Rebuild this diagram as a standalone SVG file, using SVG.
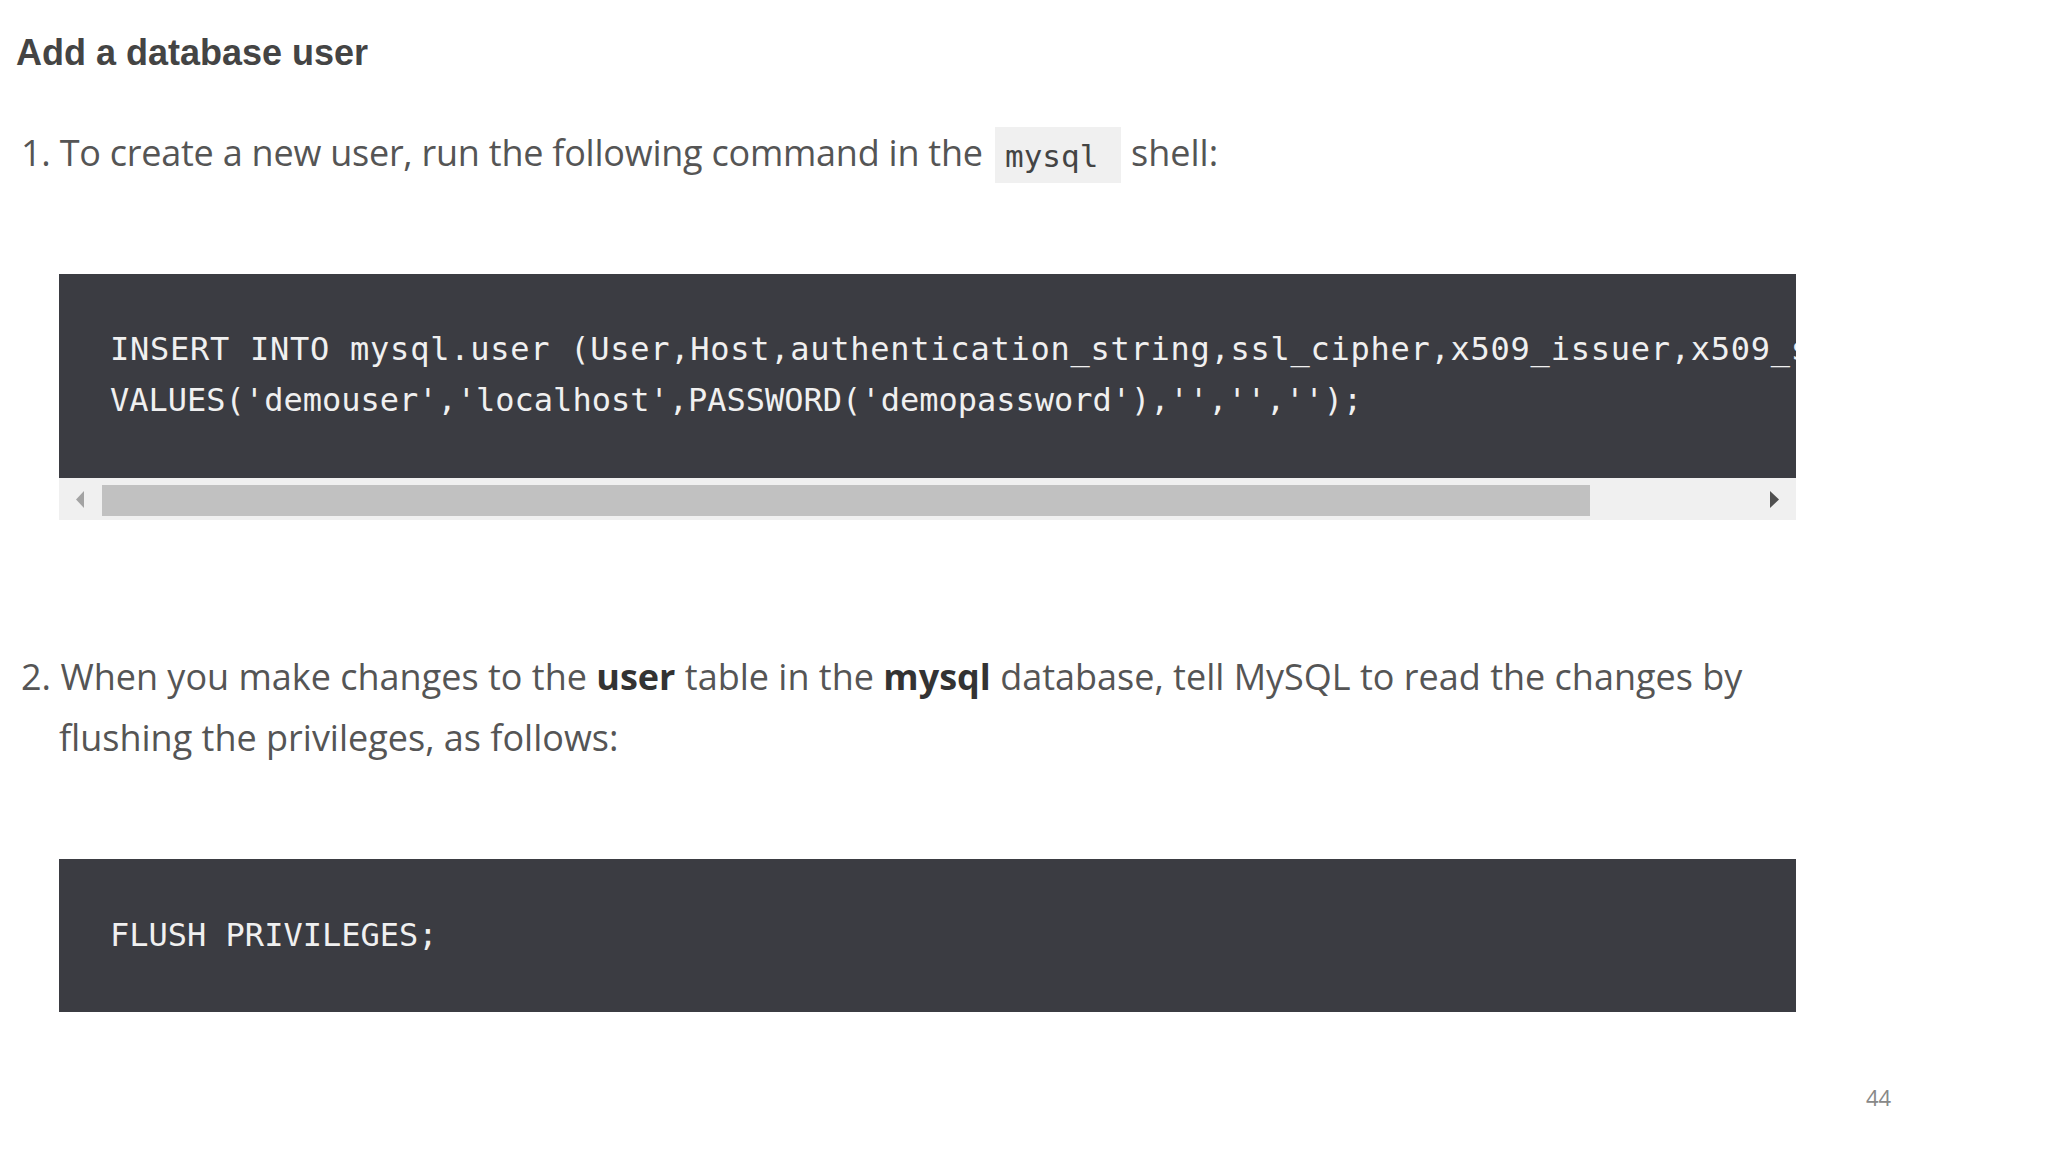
<svg xmlns="http://www.w3.org/2000/svg" width="2048" height="1152" viewBox="0 0 2048 1152">
<style>
.t{font-family:"Open Sans","Noto Sans",sans-serif;font-size:36px;fill:#555}
.c{font-family:"DejaVu Sans Mono","Liberation Mono",monospace;font-size:32px;fill:#f0f0f0}
.blk{fill:#3b3c42}
</style>
<defs><clipPath id="cp"><rect x="59" y="274" width="1737" height="204"/></clipPath></defs>
<rect width="2048" height="1152" fill="#fff"/>
<g id="title"><text x="16" y="65" font-family="Liberation Sans,Arial,sans-serif" font-weight="bold" font-size="36" fill="#444">Add a database user</text></g>
<g id="step1">
<rect x="995" y="127" width="126" height="56" fill="#f0f0f0"/>
<text class="t" x="21" y="166" textLength="962">1. To create a new user, run the following command in the</text>
<text x="1005" y="167" font-family="DejaVu Sans Mono,Liberation Mono,monospace" font-size="31" fill="#444">mysql</text>
<text class="t" x="1131" y="166">shell:</text>
</g>
<g id="code1">
<rect class="blk" x="59" y="274" width="1737" height="204"/>
<g clip-path="url(#cp)">
<text class="c" x="110" y="360" textLength="1700">INSERT INTO mysql.user (User,Host,authentication_string,ssl_cipher,x509_issuer,x509_s</text>
</g>
<text class="c" x="110" y="411">VALUES('demouser','localhost',PASSWORD('demopassword'),'','','');</text>
<rect x="59" y="478" width="1737" height="42" fill="#f0f0f0"/>
<rect x="102" y="485" width="1488" height="31" fill="#c1c1c1"/>
<polygon points="84,491 84,508 76,499.5" fill="#a3a3a3"/>
<polygon points="1770,491 1770,508 1779,499.5" fill="#505050"/>
</g>
<g id="step2">
<text class="t" x="21" y="690">2. When you make changes to the <tspan font-weight="bold" fill="#333">user</tspan> table in the <tspan font-weight="bold" fill="#333">mysql</tspan> database, tell MySQL to read the changes by</text>
<text class="t" x="59" y="751">flushing the privileges, as follows:</text>
</g>
<g id="code2">
<rect class="blk" x="59" y="859" width="1737" height="153"/>
<text class="c" x="110" y="946">FLUSH PRIVILEGES;</text>
</g>
<text x="1866" y="1106" font-family="Open Sans,sans-serif" font-size="22" fill="#888">44</text>
</svg>
